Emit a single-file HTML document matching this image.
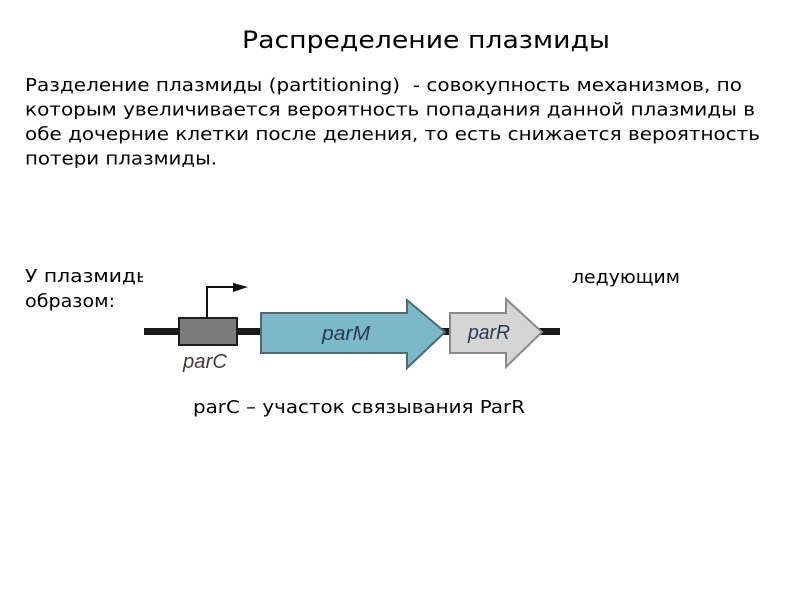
<!DOCTYPE html>
<html>
<head>
<meta charset="utf-8">
<style>
html,body{margin:0;padding:0;background:#fff;}
svg{display:block;}
text{white-space:pre;}
</style>
</head>
<body>
<svg width="800" height="600" viewBox="0 0 800 600" xmlns="http://www.w3.org/2000/svg">
<rect x="0" y="0" width="800" height="600" fill="#fff"/>
<g font-family="'DejaVu Sans', 'Liberation Sans', sans-serif" fill="#000">
<text x="242" y="48" font-size="24" textLength="368" lengthAdjust="spacingAndGlyphs">Распределение плазмиды</text>
<text x="25" y="91" font-size="18" textLength="717" lengthAdjust="spacingAndGlyphs">Разделение плазмиды (partitioning)  - совокупность механизмов, по</text>
<text x="25" y="115.5" font-size="18" textLength="730" lengthAdjust="spacingAndGlyphs">которым увеличивается вероятность попадания данной плазмиды в</text>
<text x="25" y="140" font-size="18" textLength="735" lengthAdjust="spacingAndGlyphs">обе дочерние клетки после деления, то есть снижается вероятность</text>
<text x="25" y="164.5" font-size="18" textLength="192" lengthAdjust="spacingAndGlyphs">потери плазмиды.</text>
<text x="25" y="282" font-size="18" textLength="127" lengthAdjust="spacingAndGlyphs">У плазмиды</text>
<text x="572" y="283" font-size="18" textLength="108" lengthAdjust="spacingAndGlyphs">ледующим</text>
<text x="25" y="307" font-size="18" textLength="90" lengthAdjust="spacingAndGlyphs">образом:</text>
<text x="193" y="413" font-size="18" textLength="332" lengthAdjust="spacingAndGlyphs">parC – участок связывания ParR</text>
</g>
<!-- diagram image area -->
<rect x="143" y="262" width="422" height="126" fill="#fff"/>
<rect x="144" y="328" width="416" height="7" fill="#1a1a1a"/>
<rect x="179" y="318" width="58" height="27" fill="#7b7b7b" stroke="#1e1e1e" stroke-width="2"/>
<polyline points="207,318 207,287 238,287" fill="none" stroke="#111" stroke-width="2"/>
<polygon points="233,283 248,287 233,292" fill="#111"/>
<polygon points="261,313 407,313 407,300 445,332 407,368 407,353 261,353" fill="#7cb9c8" stroke="#4d6b73" stroke-width="2"/>
<polygon points="450,313 506,313 506,299 542,332 506,367 506,353 450,353" fill="#d5d5d5" stroke="#8a8a8a" stroke-width="2"/>
<g font-family="'Liberation Sans', sans-serif" font-style="italic" font-size="20">
<text x="322" y="340" fill="#2c3a50" textLength="48" lengthAdjust="spacingAndGlyphs">parM</text>
<text x="468" y="339" fill="#2c3a50" textLength="42" lengthAdjust="spacingAndGlyphs">parR</text>
<text x="183" y="368" fill="#4a3a3a" textLength="44" lengthAdjust="spacingAndGlyphs">parC</text>
</g>
</svg>
</body>
</html>
